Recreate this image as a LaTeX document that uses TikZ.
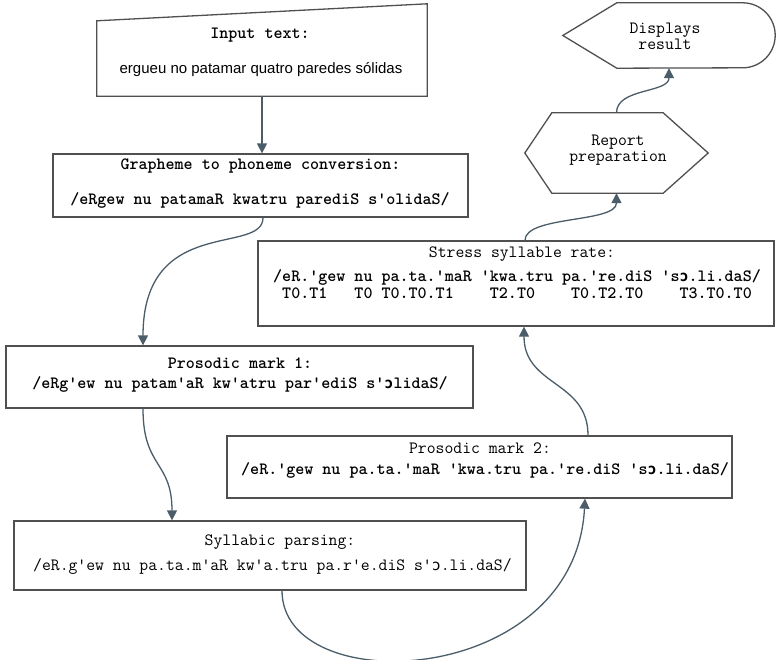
\documentclass[tikz,border=0pt]{standalone}
\usepackage{fontspec}
\setmainfont{Liberation Sans}
\newfontfamily\ipamono{DejaVu Sans Mono}
\usetikzlibrary{arrows.meta}
\definecolor{boxc}{HTML}{505050}
\definecolor{connc}{HTML}{4A5D68}
\newcommand{\oo}{{\ipamono\fontsize{15}{13.5}\selectfont ɔ}}
\tikzset{
  boxline/.style={draw=boxc, line width=1.3pt, fill=white},
  frame/.style={boxline, inner sep=0pt},
  ghost/.style={inner sep=0pt},
  conn/.style={draw=connc, line width=1.3pt, -{Triangle[length=10pt,width=10pt]}},
  mono/.style={inner sep=0pt, font=\ttfamily\fontsize{17.2}{15.5}\selectfont, align=center},
  monob/.style={inner sep=0pt, font=\ttfamily\bfseries\fontsize{17.2}{15.5}\selectfont, align=center},
  sans/.style={inner sep=0pt, font=\fontsize{15}{17}\selectfont}
}
\begin{document}
\begin{tikzpicture}[x=1pt,y=1pt]
\useasboundingbox (0,0) rectangle (776,-659);
\fill[white] (0,0) rectangle (776,-659);

% Input text (manual input shape)
\node[ghost, minimum width=330pt, minimum height=75pt] (inp) at (262,-58.5) {};
\draw[boxline] (inp.south west) -- (inp.north west) -- ([yshift=17pt]inp.north east) -- (inp.south east) -- cycle;
\node[monob] (inpT) at (260,-35) {Input text:};
\node[sans] (inpL) at (261,-70) {ergueu no patamar quatro paredes sólidas};

% Grapheme to phoneme
\node[frame, minimum width=415pt, minimum height=63pt] (g2p) at (260.5,-185.5) {};
\node[monob] (g2pT) at (260.5,-166) {Grapheme to phoneme conversion:};
\node[monob] (g2pL) at (260,-200) {/eRgew nu patamaR kwatru parediS s'olidaS/};

% Prosodic mark 1
\node[frame, minimum width=467pt, minimum height=62pt] (p1) at (239.5,-377) {};
\node[monob] (p1T) at (240,-363) {Prosodic mark 1:};
\node[monob] (p1L) at (240,-384) {/eRg'ew nu patam'aR kw'atru par'ediS s'\oo lidaS/};

% Syllabic parsing
\node[frame, minimum width=512pt, minimum height=69pt] (syl) at (270,-555.5) {};
\node[mono] (sylT) at (280,-542) {Syllabic parsing:};
\node[mono, anchor=west] (sylL) at (33,-566) {/eR.g'ew nu pa.ta.m'aR kw'a.tru pa.r'e.diS s'\oo.li.daS/};

% Prosodic mark 2
\node[frame, minimum width=505pt, minimum height=62pt] (p2) at (479.5,-467) {};
\node[mono] (p2T) at (480,-448) {Prosodic mark 2:};
\node[monob] (p2L) at (485,-470) {/eR.'gew nu pa.ta.'maR 'kwa.tru pa.'re.diS 's\oo.li.daS/};

% Stress syllable rate
\node[frame, minimum width=516pt, minimum height=85pt] (st) at (516,-283.5) {};
\node[mono] (stT) at (522,-254) {Stress syllable rate:};
\node[monob, anchor=west] (stL1) at (273,-277) {/eR.'gew nu pa.ta.'maR 'kwa.tru pa.'re.diS 's\oo.li.daS/};
\node[monob, anchor=west] (stL2) at (273,-293) {~T0.T1~~~T0~T0.T0.T1~~~~T2.T0~~~~T0.T2.T0~~~~T3.T0.T0};

% Report preparation (hexagon)
\node[ghost, minimum width=183pt, minimum height=80pt] (rep) at (616.5,-153) {};
\draw[boxline] (rep.west) -- ([xshift=27pt]rep.north west) -- ([xshift=-45pt]rep.north east) -- (rep.east) -- ([xshift=-45pt]rep.south east) -- ([xshift=27pt]rep.south west) -- cycle;
\node[mono] (repT) at (618,-150) {Report\\preparation};

% Displays result (display shape)
\node[ghost, minimum width=212pt, minimum height=65pt] (disp) at (669,-35.5) {};
\draw[boxline] (disp.west) -- ([xshift=54pt]disp.north west) -- ([xshift=-32.5pt]disp.north east) arc (90:-90:32.5pt) -- ([xshift=54pt]disp.south west) -- cycle;
\node[mono] (dispT) at (665,-36.5) {Displays\\result};

% Connectors
\draw[conn] (inp.south) -- (inp.south |- g2p.north);
\draw[conn] ([xshift=2.5pt]g2p.south) .. controls +(0,-38) and +(0,131) .. ([xshift=-96.5pt]p1.north);
\draw[conn] ([xshift=-96.5pt]p1.south) .. controls +(0,-60) and +(0,60) .. ([xshift=-98pt]syl.north);
\draw[conn] ([xshift=12pt]syl.south) .. controls +(0,-110) and +(-10,-190) .. ([xshift=105.5pt]p2.south);
\draw[conn] ([xshift=108.5pt]p2.north) .. controls +(0,55) and +(0,-60) .. ([xshift=8pt]st.south);
\draw[conn] ([xshift=9pt]st.north) .. controls +(0,25) and +(0,-30) .. (rep.south);
\draw[conn] (rep.north) .. controls +(0,25) and +(0,-25) .. (disp.south);
\end{tikzpicture}
\end{document}
